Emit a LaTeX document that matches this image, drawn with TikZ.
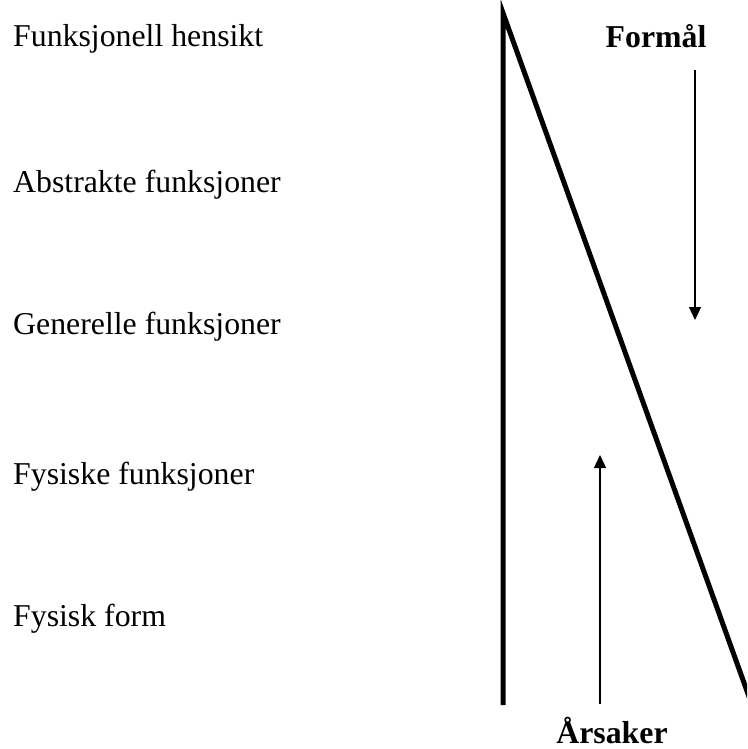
\documentclass[tikz,border=0pt]{standalone}
\usepackage{fontspec}
\setmainfont{Liberation Serif}
\usetikzlibrary{arrows.meta}
\begin{document}
\begin{tikzpicture}[x=1pt,y=-1pt,
  lvl/.style={anchor=base west,inner sep=0pt,font=\fontsize{31.8}{38}\selectfont},
  head/.style={anchor=base,inner sep=0pt,font=\fontsize{31.8}{38}\selectfont\bfseries},
  frame/.style={line width=5pt,line join=miter},
  flow/.style={line width=1.3pt,-{Triangle[length=13pt,width=12pt]}}]
\useasboundingbox (0,0) rectangle (747,749);
\node[lvl] (l1) at (13,47) {Funksjonell hensikt};
\node[lvl] (l2) at (13,192) {Abstrakte funksjoner};
\node[lvl] (l3) at (13,334) {Generelle funksjoner};
\node[lvl] (l4) at (13,484) {Fysiske funksjoner};
\node[lvl] (l5) at (13,626) {Fysisk form};
\node[head] (formaal) at (656,48) {Formål};
\node[head] (arsaker) at (612,743) {Årsaker};
\coordinate (bl) at (503,705);
\coordinate (apex) at (503,13);
\coordinate (br) at (752,705);
\begin{scope}
\clip (0,0) rectangle (747,749);
\draw[frame] (bl) -- (apex) -- (br);
\end{scope}
\coordinate (f1) at (695,70);
\coordinate (f2) at (695,320);
\coordinate (a1) at (600,704);
\coordinate (a2) at (600,455);
\draw[flow] (f1) -- (f2);
\draw[flow] (a1) -- (a2);
\end{tikzpicture}
\end{document}
